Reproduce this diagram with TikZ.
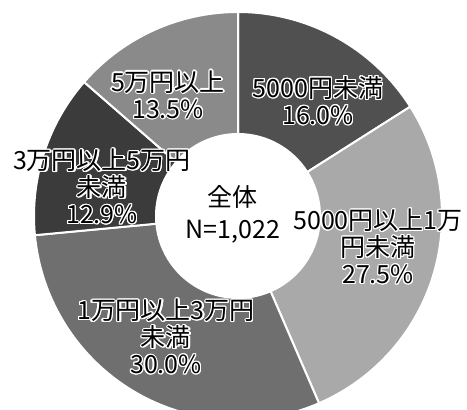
\documentclass[tikz,border=0pt]{standalone}
\usepackage{fontspec}
\setmainfont{Noto Sans CJK JP}
\usepackage{contour}
\contourlength{1.1pt}
\usetikzlibrary{positioning}
\usetikzlibrary{calc}
\definecolor{sliceA}{HTML}{505050}
\definecolor{sliceB}{HTML}{A9A9A9}
\definecolor{sliceC}{HTML}{6F6F6F}
\definecolor{sliceD}{HTML}{3B3B3B}
\definecolor{sliceE}{HTML}{8A8A8A}
\tikzstyle{slice}=[draw=white,line width=2pt]
\tikzstyle{slicelabel}=[align=center,inner sep=0pt,font=\fontsize{25}{27}\selectfont]
\tikzstyle{total}=[align=center,inner sep=0pt,font=\fontsize{25}{32}\selectfont]

\begin{document}
\begin{tikzpicture}[x=1pt,y=1pt]

  \fill[white] (0,0) rectangle (467,410);
  \useasboundingbox (0,0) rectangle (467,410);

  \def\cx{238};
  \def\cy{194};

  % ring, clockwise from the top
  \foreach \a/\b/\col in {90/32.4/sliceA, 32.4/-66.6/sliceB, -66.6/-174.6/sliceC, -174.6/-221.04/sliceD, -221.04/-270/sliceE}
         \filldraw[slice, fill=\col] (\cx,\cy) ++(\a:204) arc (\a:\b:204) -- ($(\cx,\cy)+(\b:82)$) arc (\b:\a:82) -- cycle;

  \node[total] (total) at (233,196) {全体\\N=1,022};

  \foreach \x/\y/\name/\first/\second/\third in {378/163/to10k/5000円以上1万/円未満/27.5\%, 166/73/to30k/1万円以上3万円/未満/30.0\%, 102/223/to50k/3万円以上5万円/未満/12.9\%}
          \node[slicelabel] (\name) at (\x,\y) {\contour{white}{\first}\\\contour{white}{\second}\\\contour{white}{\third}};

  \foreach \x/\y/\name/\first/\second in {318/309/under5k/5000円未満/16.0\%, 168/315/over50k/5万円以上/13.5\%}
          \node[slicelabel] (\name) at (\x,\y) {\contour{white}{\first}\\\contour{white}{\second}};

\end{tikzpicture}
\end{document}
